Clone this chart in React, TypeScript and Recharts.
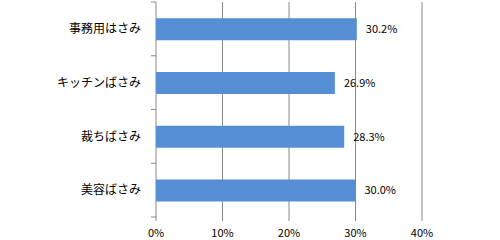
import { BarChart, Bar, XAxis, YAxis, CartesianGrid, LabelList } from 'recharts';

const categories = ['事務用はさみ', 'キッチンばさみ', '裁ちばさみ', '美容ばさみ'];
const shares = [0.302, 0.269, 0.283, 0.3];
const xTicks = [0, 0.1, 0.2, 0.3, 0.4];

const chartData = categories.map((name, i) => ({ name, share: shares[i] }));

const font = '"Noto Sans CJK JP", "Noto Sans", sans-serif';
const axisGray = '#888888';
const pct0 = (v: number) => `${Math.round(v * 100)}%`;
const pct1 = (v: number) => `${(v * 100).toFixed(1)}%`;

const LABEL_GAP = 15;
const MARK_LEN = 5;

// category label plus tick marks at the band edges (Excel-style)
function CategoryTick(props: any) {
  const { x, y, payload, index } = props;
  const half = payload?.offset ?? 0;
  const axisX = x + LABEL_GAP;
  const last = index === categories.length - 1;
  return (
    <g>
      <line x1={axisX - MARK_LEN} x2={axisX} y1={y - half} y2={y - half} stroke={axisGray} />
      {last && <line x1={axisX - MARK_LEN} x2={axisX} y1={y + half} y2={y + half} stroke={axisGray} />}
      <text x={x} y={y} dy="0.35em" textAnchor="end" fill="#000" fontSize={12} fontFamily={font}>
        {payload.value}
      </text>
    </g>
  );
}

export default function App() {
  return (
    <div style={{ position: 'absolute', left: 0, top: 0, width: 500, height: 240, background: '#fff' }}>
      <BarChart
        width={500}
        height={240}
        data={chartData}
        layout="vertical"
        margin={{ top: 2, right: 78, bottom: 0, left: 0 }}
        barCategoryGap="30%"
      >
        <CartesianGrid horizontal={false} stroke={axisGray} strokeWidth={1} />
        <YAxis
          type="category"
          dataKey="name"
          width={156}
          axisLine={false}
          tickLine={false}
          tickMargin={LABEL_GAP}
          tickSize={0}
          tick={<CategoryTick />}
        />
        <XAxis
          type="number"
          domain={[0, 0.4]}
          ticks={xTicks}
          tickFormatter={pct0}
          axisLine={false}
          tickSize={4}
          tickMargin={8}
          height={23}
          stroke={axisGray}
          tick={{ fill: '#000', fontSize: 11, fontFamily: font }}
        />
        <Bar dataKey="share" fill="#558ED5" isAnimationActive={false}>
          <LabelList
            dataKey="share"
            position="right"
            offset={9}
            formatter={(v: any) => pct1(Number(v))}
            style={{ fill: '#000', fontSize: 11, fontFamily: font }}
          />
        </Bar>
      </BarChart>
    </div>
  );
}
